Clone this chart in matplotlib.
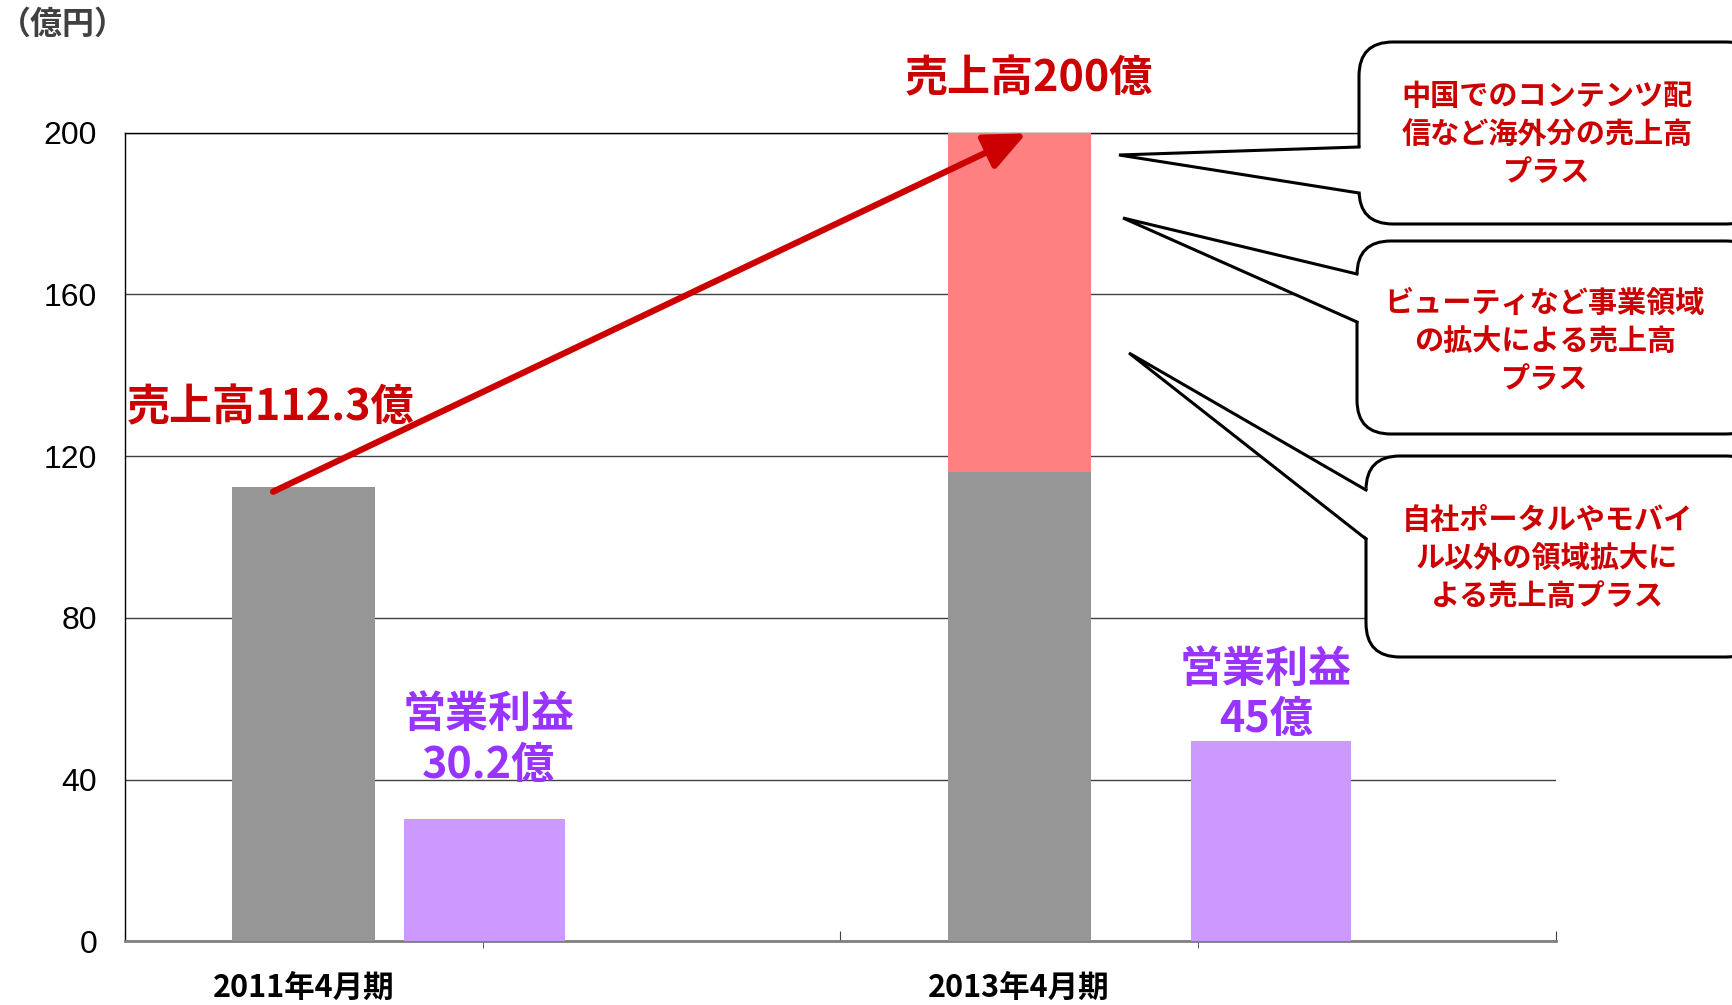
import matplotlib.pyplot as plt
import numpy as np
from matplotlib.patches import FancyBboxPatch, Polygon

plt.rcParams['font.family'] = ['Noto Sans CJK JP', 'DejaVu Sans']

# data (億円)
categories = ['2011年4月期', '2013年4月期']
sales_base = [112.3, 116.0]      # grey part of the sales bar
sales_plus = [0.0, 84.0]         # pink add-on up to 200
op_profit = [30.2, 49.5]         # purple bars as drawn
sales_labels = ['売上高112.3億', '売上高200億']
profit_labels = ['営業利益\n30.2億', '営業利益\n45億']
yticks = [0, 40, 80, 120, 160, 200]
notes = [
    '中国でのコンテンツ配\n信など海外分の売上高\nプラス',
    'ビューティなど事業領域\nの拡大による売上高\nプラス',
    '自社ポータルやモバイ\nル以外の領域拡大に\nよる売上高プラス',
]

RED = '#CC0000'
PURPLE = '#9933FF'
W, H = 1733, 1005

fig = plt.figure(figsize=(W / 100, H / 100), dpi=100)
ax = fig.add_axes([0.0721, 0.0632, 0.8256, 0.8049])

x = np.arange(len(categories)) * 2.0
ax.bar(x, sales_base, width=0.4, color='#969696', zorder=3)
ax.bar(x, sales_plus, width=0.4, bottom=sales_base, color='#FF8080', zorder=3)
ax.bar(x + np.array([0.505, 0.705]), op_profit, width=0.448, color='#CC99FF', zorder=3)

ax.set_xlim(-0.5, 3.5)
ax.set_ylim(0, 200)
ax.set_yticks(yticks)
ax.set_yticklabels([str(v) for v in yticks], family='Liberation Sans', fontsize=23)
ax.tick_params(axis='y', length=0, pad=20)
ax.yaxis.grid(True, color='#404040', lw=1.0, zorder=1)

ax.set_xticks([-0.5, 1.5, 3.5])
ax.set_xticks([0.5, 2.5], minor=True)
ax.set_xticklabels([])
ax.tick_params(axis='x', which='major', direction='in', length=7, color='#404040')
ax.tick_params(axis='x', which='minor', direction='out', length=5, color='#404040')

ax.spines['right'].set_visible(False)
ax.spines['top'].set_color('black')
ax.spines['top'].set_linewidth(1.0)
ax.spines['left'].set_linewidth(1.0)
ax.spines['bottom'].set_color('#808080')
ax.spines['bottom'].set_linewidth(2.0)

for xi, cat in zip(x, categories):
    ax.text(xi, -11.5, cat, ha='center', va='center', fontsize=22,
            fontweight='bold', clip_on=False)

# sales labels and growth arrow
ax.text(-0.495, 132, sales_labels[0], ha='left', va='center', fontsize=31,
        fontweight='bold', color=RED, zorder=6)
ax.text(2.027, 213.4, sales_labels[1], ha='center', va='center', fontsize=31,
        fontweight='bold', color=RED, clip_on=False)
ax.annotate('', xy=(2.02, 199.8), xytext=(-0.086, 111.2),
            arrowprops=dict(arrowstyle='-|>,head_length=0.9,head_width=0.4',
                            color=RED, lw=4.5, mutation_scale=28,
                            shrinkA=0, shrinkB=0), zorder=5)

for xi, lx, ly, lab in zip(x, [0.516, 0.69], [49.9, 61.2], profit_labels):
    ax.text(lx + xi, ly, lab, ha='center', va='center', fontsize=31,
            fontweight='bold', color=PURPLE, linespacing=1.2, zorder=6)

# unit label
fig.text(63 / W, 1 - 25 / H, '（億円）', ha='center', va='center',
         fontsize=23, fontweight='bold', color='#404040')

# callout boxes, drawn in pixel coordinates on an overlay
ov = fig.add_axes([0, 0, 1, 1])
ov.set_xlim(0, W)
ov.set_ylim(H, 0)
ov.set_axis_off()
ov.patch.set_visible(False)

boxes = [(1359, 42, 224), (1357, 241, 434), (1366, 456, 657)]
tails = [((1119, 155), 147, 193), ((1123, 218), 274, 322), ((1129, 353), 490, 539)]
text_pos = [(1547, 134), (1545, 341), (1547, 558)]

for (bx, top, bot), (tip, ya, yb), (tx, ty), note in zip(boxes, tails, text_pos, notes):
    ov.add_patch(FancyBboxPatch((bx, top), 1760 - bx, bot - top,
                                boxstyle='round,pad=0,rounding_size=34',
                                fc='white', ec='black', lw=2.2, zorder=2))
    ov.add_patch(Polygon([tip, (bx + 3, ya), (bx + 3, yb)], closed=True,
                         fc='white', ec='none', zorder=3))
    ov.plot([bx, tip[0], bx], [ya, tip[1], yb], color='black', lw=2.2,
            solid_joinstyle='miter', zorder=4)
    ov.text(tx, ty, note, ha='center', va='center', fontsize=21,
            fontweight='bold', color=RED, linespacing=1.35, zorder=5)

fig.savefig('out.png', dpi=100)
